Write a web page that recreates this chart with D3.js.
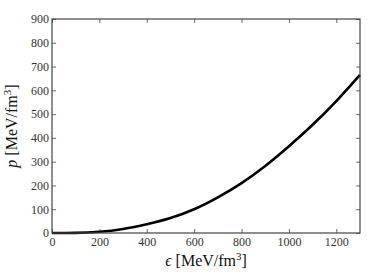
<!DOCTYPE html>
<html>
<head>
<meta charset="utf-8">
<script src="https://cdn.jsdelivr.net/npm/d3@7"></script>
<style>
  body { margin: 0; background: #fff; }
</style>
</head>
<body>
<div id="chart"></div>
<script>
// energy density (MeV/fm^3) and pressure (MeV/fm^3)
const epsilon = [0, 100, 200, 300, 400, 500, 600, 700, 800, 900, 1000, 1100, 1200, 1300];
const pressure = [0, 0.5, 5, 17, 37, 63, 100, 150, 210, 282, 365, 455, 555, 665];
const xTicks = [0, 200, 400, 600, 800, 1000, 1200];
const yTicks = [0, 100, 200, 300, 400, 500, 600, 700, 800, 900];

const W = 374, H = 280;
const margin = {top: 19, right: 14, bottom: 47, left: 52};
const width = W - margin.left - margin.right;
const height = H - margin.top - margin.bottom;
const serif = "'Liberation Serif', 'DejaVu Serif', serif";

const svg = d3.select("#chart").append("svg")
    .attr("width", W)
    .attr("height", H)
    .style("font-family", serif);

const g = svg.append("g")
    .attr("transform", `translate(${margin.left},${margin.top})`);

const x = d3.scaleLinear().domain([0, 1300]).range([0, width]);
const y = d3.scaleLinear().domain([0, 900]).range([height, 0]);

const frameColor = "#444";

// ticks pointing inward on all four sides
function styleAxis(sel) {
    sel.attr("font-family", null).style("font-family", serif);
    sel.select(".domain").remove();
    sel.selectAll(".tick line").attr("stroke", frameColor).attr("stroke-width", 0.8);
    sel.selectAll(".tick text")
        .attr("fill", "#333")
        .style("font-family", serif)
        .style("font-size", "12px");
}

g.append("g")
    .attr("transform", `translate(0,${height})`)
    .call(d3.axisBottom(x).tickValues(xTicks).tickSize(-4).tickPadding(4).tickFormat(d3.format("d")))
    .call(styleAxis);

g.append("g")
    .call(d3.axisTop(x).tickValues(xTicks).tickSize(-4).tickFormat(""))
    .call(styleAxis);

g.append("g")
    .call(d3.axisLeft(y).tickValues(yTicks).tickSize(-4).tickPadding(3).tickFormat(d3.format("d")))
    .call(styleAxis);

g.append("g")
    .attr("transform", `translate(${width},0)`)
    .call(d3.axisRight(y).tickValues(yTicks).tickSize(-4).tickFormat(""))
    .call(styleAxis);

// the curve
const line = d3.line()
    .x((d, i) => x(epsilon[i]))
    .y(d => y(d))
    .curve(d3.curveMonotoneX);

g.append("path")
    .datum(pressure)
    .attr("fill", "none")
    .attr("stroke", "#000")
    .attr("stroke-width", 2.6)
    .attr("d", line);

// frame
g.append("rect")
    .attr("width", width)
    .attr("height", height)
    .attr("fill", "none")
    .attr("stroke", frameColor)
    .attr("stroke-width", 1.2);

// axis labels
const xl = svg.append("text")
    .attr("x", margin.left + width / 2)
    .attr("y", 266)
    .attr("text-anchor", "middle")
    .style("font-size", "16px")
    .attr("fill", "#111");
xl.append("tspan").style("font-style", "italic").text("ϵ");
xl.append("tspan").text(" [MeV/fm");
xl.append("tspan").attr("dy", -6).style("font-size", "11px").text("3");
xl.append("tspan").attr("dy", 6).text("]");

const yl = svg.append("text")
    .attr("transform", `translate(17,${margin.top + height / 2}) rotate(-90)`)
    .attr("text-anchor", "middle")
    .style("font-size", "16px")
    .attr("fill", "#111");
yl.append("tspan").style("font-style", "italic").text("p");
yl.append("tspan").text(" [MeV/fm");
yl.append("tspan").attr("dy", -6).style("font-size", "11px").text("3");
yl.append("tspan").attr("dy", 6).text("]");
</script>
</body>
</html>
